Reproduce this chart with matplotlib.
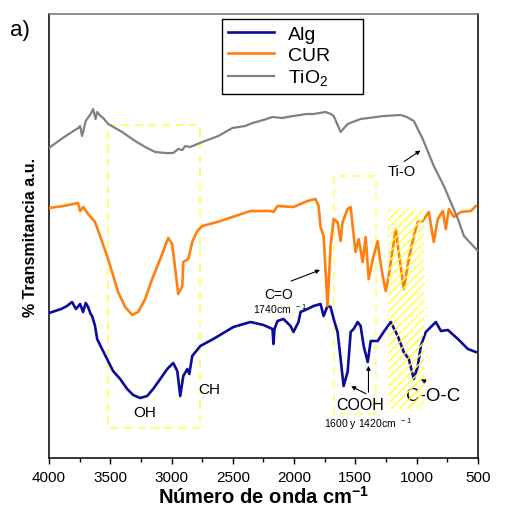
import matplotlib
matplotlib.use("Agg")
import matplotlib.pyplot as plt
from matplotlib.patches import Rectangle

plt.rcParams['font.family'] = ['Liberation Sans', 'DejaVu Sans']
plt.rcParams['mathtext.fontset'] = 'custom'
plt.rcParams['mathtext.rm'] = 'Liberation Sans'
plt.rcParams['mathtext.bf'] = 'Liberation Sans:bold'
plt.rcParams['hatch.linewidth'] = 1.0

# FTIR spectra (wavenumber cm-1, transmittance a.u.)
tio2_wn = [4000, 3900, 3800, 3760, 3746, 3730, 3700, 3660, 3640, 3620, 3607, 3580,
           3558, 3517, 3403, 3297, 3215, 3133, 3051, 2986, 2945, 2912, 2888, 2847,
           2749, 2618, 2503, 2400, 2340, 2250, 2176, 2100, 2005, 1900, 1841, 1743,
           1700, 1677, 1620, 1563, 1457, 1268, 1130, 1080, 1023, 950, 860, 778,
           663, 614, 500]
tio2_t = [311, 320, 328, 331, 333, 323, 338, 345, 350, 340, 347, 343,
          341, 335, 327, 318, 312, 307, 306, 306, 310, 309, 313, 312,
          317, 323, 331, 333, 336, 339, 342, 341, 343, 345, 345, 347,
          345, 343, 327, 335, 340, 343, 344, 342, 338, 320, 293, 273,
          240, 223, 208]

cur_wn = [4000, 3880, 3763, 3746, 3720, 3681, 3624, 3583, 3526, 3485, 3436, 3378,
          3321, 3272, 3215, 3158, 3092, 3027, 2994, 2970, 2945, 2912, 2904, 2863,
          2831, 2790, 2749, 2626, 2356, 2193, 2168, 2135, 2005, 1890, 1825, 1800,
          1784, 1759, 1727, 1702, 1677, 1645, 1620, 1604, 1563, 1538, 1522, 1498,
          1473, 1440, 1416, 1391, 1358, 1318, 1309, 1277, 1252, 1228, 1170, 1146,
          1105, 1064, 1023, 990, 950, 901, 860, 827, 786, 762, 737, 696,
          639, 557, 517]
cur_t = [251, 253, 256, 248, 252, 245, 237, 223, 203, 187, 167, 152,
         144, 147, 160, 180, 200, 221, 215, 190, 165, 173, 197, 200,
         217, 228, 233, 237, 248, 248, 247, 253, 252, 258, 260, 253,
         232, 223, 153, 213, 240, 237, 218, 237, 250, 252, 233, 207,
         220, 197, 222, 180, 200, 218, 208, 183, 168, 183, 230, 207,
         170, 200, 223, 237, 238, 247, 217, 240, 248, 230, 250, 242,
         247, 248, 253]

alg_wn = [4000, 3900, 3853, 3812, 3780, 3746, 3722, 3700, 3681, 3660, 3648, 3624,
          3607, 3567, 3526, 3477, 3419, 3362, 3313, 3256, 3199, 3150, 3092, 3035,
          2986, 2953, 2929, 2904, 2871, 2855, 2831, 2765, 2659, 2495, 2356, 2250,
          2176, 2168, 2160, 2135, 2087, 2029, 2005, 1964, 1947, 1890, 1841, 1784,
          1759, 1727, 1702, 1677, 1645, 1620, 1596, 1563, 1538, 1514, 1481, 1457,
          1432, 1399, 1375, 1318, 1269, 1211, 1154, 1105, 1064, 1023, 990, 966,
          925, 843, 802, 745, 663, 582, 517]
alg_t = [146, 150, 153, 157, 150, 155, 147, 156, 152, 145, 143, 133,
         120, 110, 100, 88, 80, 70, 64, 61, 63, 70, 80, 90,
         96, 88, 63, 83, 90, 85, 103, 113, 120, 132, 137, 134,
         130, 115, 130, 138, 140, 133, 127, 137, 147, 150, 153, 155,
         143, 153, 152, 140, 127, 100, 73, 87, 127, 130, 137, 133,
         113, 97, 118, 118, 127, 137, 123, 107, 100, 80, 93, 113,
         127, 137, 128, 129, 120, 110, 107]

fig = plt.figure(figsize=(5.07, 5.10), dpi=100)
ax = fig.add_axes([0.0966, 0.1, 0.846, 0.8706])

ax.plot(alg_wn, alg_t, color='#0b0b9c', lw=1.9, label='Alg', zorder=3)
ax.plot(cur_wn, cur_t, color='#ff8010', lw=1.9, label='CUR', zorder=3)
ax.plot(tio2_wn, tio2_t, color='#808080', lw=1.6, label='TiO$_2$', zorder=3)

# highlighted regions
ax.add_patch(Rectangle((2765, 31), 3520 - 2765, 334 - 31, fill=False,
                       edgecolor='#ffff66', lw=1.4, ls=(0, (4, 3)), zorder=2))
ax.add_patch(Rectangle((1334, 45), 1677 - 1334, 283 - 45, fill=False,
                       edgecolor='#ffff80', lw=1.4, ls=(0, (4, 3)), zorder=2))
ax.add_patch(Rectangle((942, 50), 1236 - 942, 250 - 50, fill=False,
                       edgecolor='#ffff33', lw=0, hatch='////', zorder=4))

arrow = dict(arrowstyle='-|>', color='black', lw=0.8, mutation_scale=6)
ax.annotate('', xy=(950, 310), xytext=(1120, 296), arrowprops=arrow)
ax.text(1121, 288, 'Ti-O', fontsize=10.5, ha='center', va='center')

ax.annotate('', xy=(1767, 190), xytext=(2045, 177), arrowprops=arrow)
ax.text(2127, 165, 'C=O', fontsize=10, ha='center', va='center')
ax.text(2119, 151, '1740cm $^{\\,-1}$', fontsize=7.5, ha='center', va='center')

ax.text(3223, 47, 'OH', fontsize=11, ha='center', va='center')
ax.text(2691, 70, 'CH', fontsize=11, ha='center', va='center')

ax.annotate('', xy=(1555, 74), xytext=(1393, 64), arrowprops=arrow)
ax.annotate('', xy=(1393, 96), xytext=(1393, 64), arrowprops=arrow)
ax.text(1465, 54, 'COOH', fontsize=11.5, ha='center', va='center')
ax.text(1400, 36, '1600 y 1420cm $^{\\,-1}$', fontsize=7.5, ha='center', va='center')

ax.annotate('', xy=(985, 81), xytext=(905, 76), arrowprops=arrow)
ax.text(868, 63, 'C-O-C', fontsize=13.5, ha='center', va='center')

ax.set_xlim(4000, 500)
ax.set_ylim(1, 445)
ax.set_xticks([4000, 3500, 3000, 2500, 2000, 1500, 1000, 500])
ax.set_xticks([3750, 3250, 2750, 2250, 1750, 1250, 750], minor=True)
ax.tick_params(axis='x', which='both', direction='out', labelsize=11,
               length=4, width=1, pad=5)
ax.tick_params(axis='x', which='minor', length=3)
ax.set_yticks([])

for s in ['left', 'bottom', 'right']:
    ax.spines[s].set_linewidth(1.1)
    ax.spines[s].set_color('black')
ax.spines['top'].set_linewidth(1.1)
ax.spines['top'].set_color('#707070')

ax.set_xlabel('Número de onda cm$^{\\mathbf{-1}}$', fontsize=14.5,
              fontweight='bold', labelpad=0)
ax.set_ylabel('% Transmitancia a.u.', fontsize=11.5, fontweight='bold', labelpad=8)
fig.text(0.02, 0.94, 'a)', fontsize=16, ha='left', va='center')

leg = ax.legend(loc='upper left', bbox_to_anchor=(0.403, 0.83, 0.329, 0.158),
                mode='expand', borderaxespad=0, fontsize=14, frameon=True,
                fancybox=False, framealpha=1, edgecolor='black',
                handlelength=2.4, handletextpad=0.7, labelspacing=0.2,
                borderpad=0.3)
leg.get_frame().set_linewidth(1.0)

fig.savefig('out.png', dpi=100)
